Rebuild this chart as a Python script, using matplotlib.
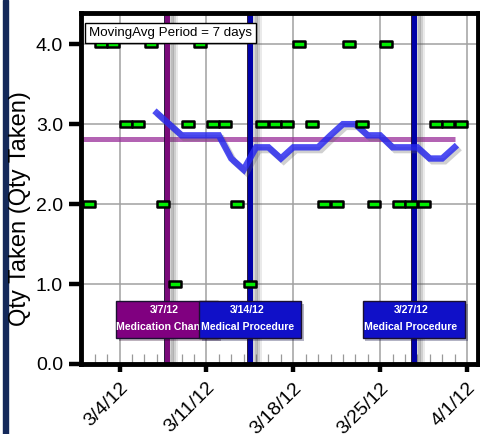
import matplotlib
matplotlib.use('Agg')
import matplotlib.pyplot as plt
import matplotlib.dates as mdates
import matplotlib.patheffects as pe
import matplotlib.ticker as mticker
from matplotlib.path import Path
from matplotlib.patches import Rectangle
import pandas as pd

plt.rcParams['font.family'] = ['Liberation Sans', 'DejaVu Sans']

# ---- data ----
dose_dates = pd.date_range('2012-03-01 12:00', periods=31, freq='D')
qty_taken = [2, 4, 4, 3, 3, 4, 2, 1, 3, 4, 3, 3, 2, 1, 3, 3, 3, 4, 3, 2, 2, 4, 3, 2, 4, 2, 2, 2, 3, 3, 3]

ma_dates = pd.date_range('2012-03-07', periods=25, freq='D')
moving_avg = [3.14, 3.00, 2.86, 2.86, 2.86, 2.86, 2.57, 2.43, 2.71, 2.71, 2.57, 2.71, 2.71,
              2.71, 2.86, 3.00, 3.00, 2.86, 2.86, 2.71, 2.71, 2.71, 2.57, 2.57, 2.71]

mean_start = pd.Timestamp('2012-03-01')
mean_end = pd.Timestamp('2012-03-31')
mean_qty = 2.81

event_times = [pd.Timestamp('2012-03-07 20:00'), pd.Timestamp('2012-03-14 13:00'),
               pd.Timestamp('2012-03-27 17:00')]
event_labels = ['Medication Change', 'Medical Procedure', 'Medical Procedure']
event_colors = ['#800080', '#1010c8', '#1010c8']
event_line_colors = ['#7a0a7a', '#0000a8', '#0000a8']

legend_text = 'MovingAvg Period = 7 days'
y_label = 'Qty Taken (Qty Taken)'
y_ticks = [0.0, 1.0, 2.0, 3.0, 4.0]

# ---- figure ----
fig = plt.figure(figsize=(4.80, 4.34), dpi=100)
ax = fig.add_axes([81/480, 70/434, 397/480, 351/434])

fig.patches.append(Rectangle((3/480, 0), 5/480, 1, transform=fig.transFigure,
                             color='#14295a', zorder=0))

ax.set_xlim(pd.Timestamp('2012-02-29 21:20'), pd.Timestamp('2012-04-01 21:20'))
ax.set_ylim(0, 4.39)

# grid
ax.grid(True, which='major', color='#a0a0a0', linewidth=1.1, zorder=0)
ax.set_axisbelow(True)

# mean line
ax.plot([mean_start, mean_end], [mean_qty, mean_qty], color='#9a2f9a', alpha=0.75,
        linewidth=3.6, solid_capstyle='butt', zorder=2)

# event lines
shadow = [pe.SimpleLineShadow(offset=(o, 0), shadow_color='#555555', alpha=a, rho=1)
          for o, a in [(6, 0.12), (4.5, 0.18), (3, 0.25)]]
for t, lc in zip(event_times, event_line_colors):
    ax.axvline(t, color=lc, linewidth=3.6, zorder=3,
               path_effects=shadow + [pe.Stroke(linewidth=4.2, foreground='#1a0a30'),
                                      pe.Normal()])

# moving average
ax.plot(ma_dates, moving_avg, color='#2626f0', alpha=0.82, linewidth=4.6,
        solid_joinstyle='miter', zorder=4,
        path_effects=[pe.SimpleLineShadow(offset=(2, -2), shadow_color='#666666', alpha=0.3),
                      pe.Normal()])

# dose markers
rect = Path([(-1, -0.42), (1, -0.42), (1, 0.42), (-1, 0.42), (-1, -0.42)],
            [Path.MOVETO, Path.LINETO, Path.LINETO, Path.LINETO, Path.CLOSEPOLY])
ax.plot(dose_dates, qty_taken, linestyle='none', marker=rect, markersize=8.6,
        markerfacecolor='#00ee00', markeredgecolor='black', markeredgewidth=1.8,
        zorder=6, clip_on=False)

# event boxes
box_w = 8.24
for i, (t, lab, bc) in enumerate(zip(event_times, event_labels, event_colors)):
    xc = mdates.date2num(t)
    z = 7 + 2 * i
    r = Rectangle((xc - box_w / 2, 0.325), box_w, 0.465, facecolor=bc,
                  edgecolor='#1a1030', linewidth=1.0, zorder=z,
                  path_effects=[pe.SimplePatchShadow(offset=(2, -2), alpha=0.3), pe.Normal()])
    ax.add_patch(r)
    ds = f'{t.month}/{t.day}/{t.strftime("%y")}'
    ax.text(xc - 0.25, 0.675, ds, color='white', fontsize=7.6, fontweight='bold',
            ha='center', va='center', zorder=z + 1)
    txt = ax.text(xc - 0.25, 0.46, lab, color='white', fontsize=7.6, fontweight='bold',
                  ha='center', va='center', zorder=z + 1)
    txt.set_clip_path(r)

# legend box
ax.text(0.02, 0.943, legend_text, transform=ax.transAxes, fontsize=9.6,
        ha='left', va='center', zorder=20,
        bbox=dict(boxstyle='square,pad=0.3', facecolor='white', edgecolor='black',
                  linewidth=1.0))

# axes styling
for s in ax.spines.values():
    s.set_linewidth(3.5)
    s.set_color('black')
    s.set_zorder(15)

ax.xaxis.set_major_locator(mdates.WeekdayLocator(byweekday=mdates.SU))
ax.xaxis.set_minor_locator(mdates.DayLocator())
ax.xaxis.set_major_formatter(mticker.FuncFormatter(
    lambda v, p: (lambda d: f'{d.month}/{d.day}/{d.strftime("%y")}')(mdates.num2date(v))))
ax.tick_params(axis='x', which='major', direction='out', length=6, width=3.2,
               labelsize=14, pad=5)
ax.tick_params(axis='x', which='minor', direction='in', length=7, width=0.9,
               color='#999999')
for lbl in ax.get_xticklabels():
    lbl.set_rotation(45)
    lbl.set_ha('right')
    lbl.set_va('top')
    lbl.set_rotation_mode('anchor')

ax.set_yticks(y_ticks)
ax.yaxis.set_major_formatter(mticker.FormatStrFormatter('%.1f'))
ax.tick_params(axis='y', which='major', direction='out', length=8.5, width=3.2,
               labelsize=14, pad=4.5)

fig.text(20/480, 1 - 209/434, y_label, rotation=90, ha='center', va='center', fontsize=17)

fig.savefig('out.png', dpi=100)
